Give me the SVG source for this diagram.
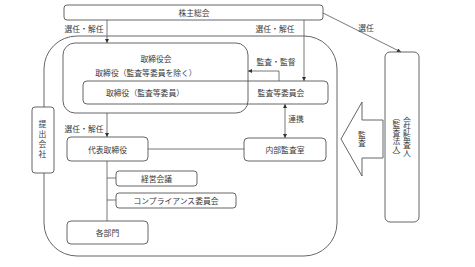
<svg xmlns="http://www.w3.org/2000/svg" width="475" height="267" viewBox="0 0 475 267">
<defs>
<style>
.box{fill:none;stroke:#555;stroke-width:0.9}
.wbox{fill:#fff;stroke:#555;stroke-width:0.9}
.ln{fill:none;stroke:#555;stroke-width:0.8}
.t{font-family:"Noto Sans CJK JP","Noto Sans CJK SC",sans-serif;font-size:7.8px;fill:#3a3a3a;text-anchor:middle;dominant-baseline:central}
.v{writing-mode:vertical-rl}
</style>
<marker id="ah" viewBox="0 0 6 6" refX="6" refY="3" markerWidth="4.5" markerHeight="4" markerUnits="userSpaceOnUse" orient="auto-start-reverse">
<path d="M0,0 L6,3 L0,6 z" fill="#333"/>
</marker>
</defs>
<rect width="475" height="267" fill="#fff"/>

<g id="company">
<rect class="box" x="44" y="36" width="293" height="220" rx="33"/>
</g>

<g id="connectors">
<line class="ln" x1="107" y1="20" x2="107" y2="43" marker-end="url(#ah)"/>
<line class="ln" x1="304" y1="20" x2="304" y2="81" marker-end="url(#ah)"/>
<line class="ln" x1="323" y1="13" x2="401" y2="52" marker-end="url(#ah)"/>
<path class="ln" d="M279,81 V71 H248" marker-end="url(#ah)"/>
<line class="ln" x1="107" y1="113" x2="107" y2="137" marker-end="url(#ah)"/>
<line class="ln" x1="285" y1="104" x2="285" y2="138" marker-start="url(#ah)" marker-end="url(#ah)"/>
<line class="ln" x1="148" y1="149" x2="244" y2="149"/>
<line class="ln" x1="107" y1="161" x2="107" y2="221"/>
<line class="ln" x1="107" y1="178" x2="116" y2="178"/>
<line class="ln" x1="107" y1="200" x2="116" y2="200"/>
<text class="t" x="84" y="28">選任・解任</text>
<text class="t" x="275" y="28">選任・解任</text>
<text class="t" x="366" y="27">選任</text>
<text class="t" x="276" y="61">監査・監督</text>
<text class="t" x="84" y="128">選任・解任</text>
<text class="t" x="296" y="118">連携</text>
</g>

<g id="shareholders">
<rect class="box" x="64" y="5" width="259" height="15" rx="3"/>
<text class="t" x="194" y="12.5">株主総会</text>
</g>

<g id="board">
<rect class="box" x="63" y="43" width="185" height="70" rx="12"/>
<text class="t" x="156" y="58">取締役会</text>
<text class="t" x="146" y="72">取締役（監査等委員を除く）</text>
</g>

<g id="audit-committee">
<rect class="box" x="83" y="81" width="245" height="23" rx="4"/>
<text class="t" x="145" y="92.5">取締役（監査等委員）</text>
<text class="t" x="281" y="92.5">監査等委員会</text>
</g>

<g id="submitting-company">
<rect class="wbox" x="32" y="107" width="22" height="66" rx="3"/>
<text class="t v" x="42.5" y="140" style="letter-spacing:2px">提出会社</text>
</g>

<g id="representative">
<rect class="box" x="67" y="137" width="81" height="24" rx="4"/>
<text class="t" x="107.5" y="149">代表取締役</text>
</g>

<g id="internal-audit">
<rect class="box" x="244" y="138" width="82" height="23" rx="4"/>
<text class="t" x="285" y="149.5">内部監査室</text>
</g>

<g id="management-meeting">
<rect class="box" x="116" y="171" width="81" height="15" rx="3"/>
<text class="t" x="156.5" y="178.5">経営会議</text>
</g>

<g id="compliance">
<rect class="box" x="116" y="193" width="120" height="15" rx="3"/>
<text class="t" x="176" y="200.5">コンプライアンス委員会</text>
</g>

<g id="departments">
<rect class="box" x="67" y="221" width="81" height="23" rx="4"/>
<text class="t" x="107.5" y="232.5">各部門</text>
</g>

<g id="audit-arrow">
<polygon class="wbox" points="341,139 362,102 362,120 383,120 383,158 362,158 362,176"/>
<text class="t v" x="362" y="139">監査</text>
</g>

<g id="accounting-auditor">
<rect class="box" x="385" y="52" width="34" height="170" rx="5"/>
<text class="t v" x="407" y="137">会計監査人</text>
<text class="t v" x="396.5" y="137">（監査法人）</text>
</g>
</svg>
